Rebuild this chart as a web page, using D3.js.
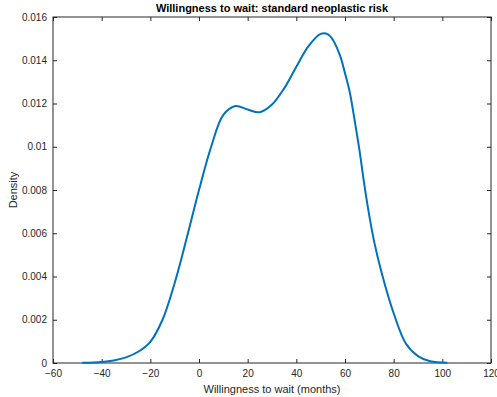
<!DOCTYPE html>
<html lang="en">
<head>
<meta charset="UTF-8">
<title>Willingness to wait: standard neoplastic risk</title>
<style>
    body { margin: 0; background: #fff; }
    svg { display: block; font-family: "Liberation Sans", Arial, sans-serif; }
</style>
</head>
<body>
<svg id="chart" width="497" height="397"></svg>
<script src="https://d3js.org/d3.v7.min.js"></script>
<script>
// months (x) and estimated density (y)
const months = [-48, -40, -35, -30, -25, -20, -15, -10, -5, 0, 5, 10, 15, 20, 25, 30, 35, 40,
    45, 50, 53, 55, 58, 60, 62, 64, 66, 68, 70, 72, 75, 80, 85, 90, 95, 102];
const density = [0.00001, 0.00005, 0.00012, 0.00026, 0.00052, 0.00098, 0.0020, 0.0037, 0.0058,
    0.008, 0.01, 0.01147, 0.01188, 0.01172, 0.0116, 0.01195, 0.0127, 0.0137, 0.01465, 0.01522,
    0.0152, 0.01495, 0.0142, 0.0134, 0.0125, 0.0112, 0.0098, 0.0082, 0.0068, 0.0056, 0.0042,
    0.0023, 0.0009, 0.00032, 0.00008, 0.00001];

const xTicks = [-60, -40, -20, 0, 20, 40, 60, 80, 100, 120];
const yTicks = [0, 0.002, 0.004, 0.006, 0.008, 0.01, 0.012, 0.014, 0.016];
const yTickLabels = ["0", "0.002", "0.004", "0.006", "0.008", "0.01", "0.012", "0.014", "0.016"];

const svg = d3.select("#chart");
const m = { left: 53, right: 491, top: 17, bottom: 363 };

const x = d3.scaleLinear().domain([-60, 120]).range([m.left, m.right]);
const y = d3.scaleLinear().domain([0, 0.016]).range([m.bottom, m.top]);

const axisColor = "#262626";

// x axis (bottom) and mirrored ticks (top)
svg.append("g")
    .attr("transform", `translate(0,${m.bottom})`)
    .call(d3.axisBottom(x).tickValues(xTicks).tickSize(-4).tickPadding(7).tickFormat(d3.format("d")));
svg.append("g")
    .attr("transform", `translate(0,${m.top})`)
    .call(d3.axisTop(x).tickValues(xTicks).tickSize(-4).tickFormat(""));

// y axis (left) and mirrored ticks (right)
svg.append("g")
    .attr("transform", `translate(${m.left},0)`)
    .call(d3.axisLeft(y).tickValues(yTicks).tickSize(-4).tickPadding(6)
        .tickFormat((d, i) => yTickLabels[i]));
svg.append("g")
    .attr("transform", `translate(${m.right},0)`)
    .call(d3.axisRight(y).tickValues(yTicks).tickSize(-4).tickFormat(""));

svg.selectAll(".domain").remove();
svg.selectAll(".tick line").attr("stroke", axisColor);
svg.selectAll(".tick text").attr("fill", axisColor).style("font-size", "10px")
    .style("font-family", "'Liberation Sans', Arial, sans-serif");

// box
svg.append("rect")
    .attr("x", m.left).attr("y", m.top)
    .attr("width", m.right - m.left).attr("height", m.bottom - m.top)
    .attr("fill", "none").attr("stroke", axisColor).attr("stroke-width", 1);

// density curve
const line = d3.line()
    .x((d, i) => x(months[i]))
    .y((d, i) => y(density[i]))
    .curve(d3.curveCatmullRom.alpha(0.5));

svg.append("path")
    .datum(density)
    .attr("fill", "none")
    .attr("stroke", "#0072BD")
    .attr("stroke-width", 2)
    .attr("d", line);

// title and labels
svg.append("text")
    .attr("x", (m.left + m.right) / 2).attr("y", 12)
    .attr("text-anchor", "middle")
    .style("font-size", "11px").style("font-weight", "bold")
    .attr("fill", "#000")
    .text("Willingness to wait: standard neoplastic risk");

svg.append("text")
    .attr("x", (m.left + m.right) / 2).attr("y", 393)
    .attr("text-anchor", "middle")
    .style("font-size", "11px")
    .attr("fill", axisColor)
    .text("Willingness to wait (months)");

svg.append("text")
    .attr("transform", `translate(17,${(m.top + m.bottom) / 2}) rotate(-90)`)
    .attr("text-anchor", "middle")
    .style("font-size", "11px")
    .attr("fill", axisColor)
    .text("Density");
</script>
</body>
</html>
